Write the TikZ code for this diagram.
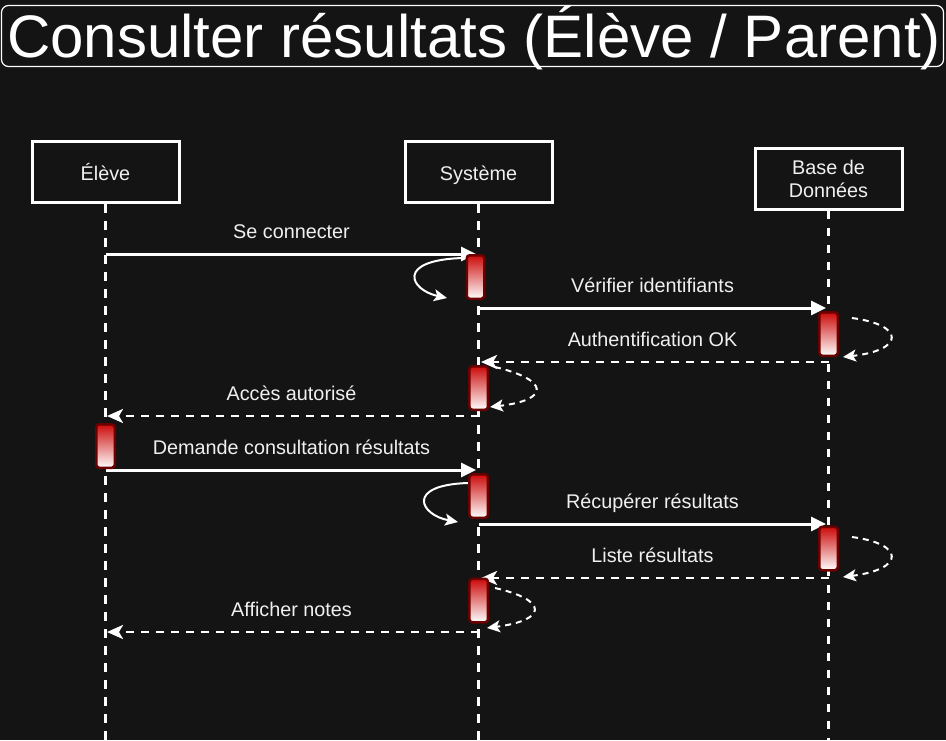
\documentclass[tikz,border=0pt]{standalone}
\usepackage{fontspec}
\setmainfont{Liberation Sans}
\usetikzlibrary{arrows.meta}
\definecolor{bg}{HTML}{141414}
\definecolor{fg}{HTML}{F0F0F0}
\definecolor{bartop}{HTML}{CC0A0A}
\definecolor{barline}{HTML}{6B0000}
\begin{document}
\begin{tikzpicture}[x=1pt,y=-1pt,
 actor/.style={draw=white, line width=3pt, fill=bg, minimum width=147pt, minimum height=61pt, inner sep=0pt, text=fg, font=\fontsize{19.8}{23}\selectfont, align=center},
 lifeline/.style={draw=white, line width=3pt, dash pattern=on 8.5pt off 8.5pt},
 actbar/.style={draw=barline, line width=2.5pt, rounded corners=3pt, top color=bartop, bottom color=white, minimum width=18.5pt, minimum height=43.5pt, inner sep=0pt},
 call/.style={draw=white, line width=3pt, -{Triangle[length=15pt,width=14pt]}},
 reply/.style={draw=white, line width=2.7pt, dash pattern=on 7.5pt off 7.5pt, -{Stealth[length=16pt,width=14pt,inset=4pt]}},
 selfsolid/.style={draw=white, line width=2pt, -{Stealth[length=13pt,width=12pt,inset=3pt]}},
 selfdash/.style={draw=white, line width=2pt, dash pattern=on 6pt off 5pt, -{Stealth[length=13pt,width=12pt,inset=3pt]}},
 lbl/.style={text=fg, font=\fontsize{19.8}{23}\selectfont, inner sep=0pt, anchor=base},
]
\fill[bg] (0,0) rectangle (946,740);
\useasboundingbox (0,0) rectangle (946,740);

% title
\node[draw=white, line width=1.2pt, rounded corners=7pt, minimum width=942pt, minimum height=61pt, inner sep=0pt] (titlebox) at (472.5,36) {};
\node[text=white, font=\fontsize{60}{60}\selectfont, inner sep=0pt, anchor=base] (title) at (474,57) {Consulter résultats (Élève / Parent)};

% actors
\node[actor, text height=16pt, text depth=0pt] (eleve) at (105.5,172) {Élève};
\node[actor, text height=16pt, text depth=0pt] (sys) at (478.5,172) {Système};
\node[actor] (bd) at (828.5,178.5) {Base de\\Données};

% lifeline ends
\coordinate (eEnd) at (105.5,740);
\coordinate (sEnd) at (478.5,740);
\coordinate (bEnd) at (828.5,740);
\draw[lifeline] (eleve.south) -- (eEnd);
\draw[lifeline] (sys.south) -- (sEnd);
\draw[lifeline] (bd.south) -- (bEnd);

% message end points
\coordinate (m1a) at (105.5,254); \coordinate (m1b) at (476,254);
\coordinate (m2a) at (478.5,308); \coordinate (m2b) at (826,308);
\coordinate (m3a) at (828.5,362); \coordinate (m3b) at (481,362);
\coordinate (m4a) at (478.5,416); \coordinate (m4b) at (107,416);
\coordinate (m5a) at (105.5,470); \coordinate (m5b) at (476,470);
\coordinate (m6a) at (478.5,524); \coordinate (m6b) at (826,524);
\coordinate (m7a) at (828.5,578); \coordinate (m7b) at (481,578);
\coordinate (m8a) at (478.5,632); \coordinate (m8b) at (107,632);

\draw[call] (m1a) -- (m1b);
\draw[call] (m2a) -- (m2b);
\draw[reply] (m3a) -- (m3b);
\draw[reply] (m4a) -- (m4b);
\draw[call] (m5a) -- (m5b);
\draw[call] (m6a) -- (m6b);
\draw[reply] (m7a) -- (m7b);
\draw[reply] (m8a) -- (m8b);

\node[lbl] (l1) at (291.5,238.5) {Se connecter};
\node[lbl] (l2) at (652.5,292.5) {Vérifier identifiants};
\node[lbl] (l3) at (652.5,346.5) {Authentification OK};
\node[lbl] (l4) at (291.5,400.5) {Accès autorisé};
\node[lbl] (l5) at (291.5,454.5) {Demande consultation résultats};
\node[lbl] (l6) at (652.5,508.5) {Récupérer résultats};
\node[lbl] (l7) at (652.5,562.5) {Liste résultats};
\node[lbl] (l8) at (291.5,616.5) {Afficher notes};

% self curves
\coordinate (c1a) at (463,258); \coordinate (c1b) at (447,298);
\coordinate (c2a) at (495,367); \coordinate (c2b) at (490,407);
\coordinate (c3a) at (852,318); \coordinate (c3b) at (843,357);
\coordinate (c4a) at (468,483); \coordinate (c4b) at (458,522);
\coordinate (c5a) at (852,537); \coordinate (c5b) at (843,577);
\coordinate (c6a) at (495,588); \coordinate (c6b) at (487,628);
\draw[selfsolid] (c1a) .. controls (395,260) and (410,290) .. (c1b);
\draw[selfdash] (c2a) .. controls (550,380) and (550,400) .. (c2b);
\draw[selfdash] (c3a) .. controls (905,325) and (905,350) .. (c3b);
\draw[selfsolid] (c4a) .. controls (405,485) and (420,515) .. (c4b);
\draw[selfdash] (c5a) .. controls (905,544) and (905,569) .. (c5b);
\draw[selfdash] (c6a) .. controls (548,600) and (548,620) .. (c6b);

% activation bars
\node[actbar, minimum width=17.5pt] (s1) at (475.5,277) {};
\node[actbar] (s2) at (478.7,388) {};
\node[actbar] (e1) at (105.5,446) {};
\node[actbar] (s3) at (478.7,496) {};
\node[actbar] (b1) at (828.5,334) {};
\node[actbar] (b2) at (828.5,548.5) {};
\node[actbar] (s4) at (478.7,600.5) {};
\end{tikzpicture}
\end{document}
